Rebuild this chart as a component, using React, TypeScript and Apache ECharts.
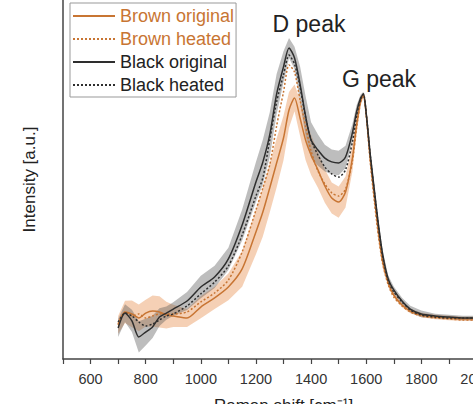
import React, { useEffect, useRef } from "react";
import * as echarts from "echarts";

// Raman shift (cm^-1)
const shifts = [700, 725, 750, 775, 800, 825, 850, 875, 900, 950, 1000, 1050, 1100, 1150, 1200, 1225, 1250, 1275, 1300, 1320, 1340, 1360, 1380, 1400, 1425, 1450, 1475, 1500, 1525, 1550, 1565, 1580, 1590, 1600, 1615, 1630, 1645, 1660, 1680, 1700, 1730, 1760, 1800, 1850, 1900, 1950, 2000];

// Intensity (a.u., G peak ~ 100)
const brownOriginal = [-3.1, 2.7, 1.8, 0, 2.2, 3.1, 2.7, 1.3, 0.9, 0, 4.9, 9.0, 13.9, 22.0, 38.6, 47.5, 58.3, 69.5, 80.7, 93.3, 98.7, 89.7, 79.8, 73.1, 66.4, 59.2, 53.8, 52.0, 56.5, 71.7, 86.5, 97.3, 100.0, 91.5, 70.9, 53.8, 37.7, 25.1, 15.7, 10.3, 5.8, 3.1, 1.3, 0.4, 0, -0.4, -0.4];
const brownHeated = [-2.7, 2.7, 0.9, 1.8, 0, 0.9, 1.8, 1.8, 1.8, 2.7, 7.2, 11.2, 17.0, 29.6, 48.4, 58.3, 68.6, 86.1, 101.3, 113.5, 110.3, 97.8, 86.1, 74.9, 65.9, 60.1, 56.1, 54.7, 57.8, 70.4, 85.2, 96.9, 100.0, 91.0, 69.5, 52.0, 36.3, 24.2, 14.8, 9.4, 5.4, 2.7, 0.9, 0, -0.4, -0.9, -0.9];
const blackOriginal = [-4.5, 2.2, -1.3, -8.5, -6.3, -4.0, 0.4, 2.2, 4.0, 7.6, 13.9, 18.4, 26.5, 41.7, 61.0, 69.9, 82.1, 100.4, 112.6, 121.1, 116.6, 104.9, 90.6, 79.8, 75.3, 71.7, 70.0, 69.5, 72.2, 83.0, 92.4, 98.7, 100.4, 91.9, 73.1, 57.0, 41.3, 28.3, 17.5, 12.6, 7.6, 4.0, 1.8, 0.9, 0.4, 0, 0];
const blackHeated = [-1.8, 2.2, 0.9, -1.8, -3.6, -2.7, -0.9, 0.9, 1.8, 5.4, 10.8, 16.1, 23.3, 37.2, 54.7, 62.8, 79.8, 96.9, 109.0, 117.9, 113.9, 103.6, 90.1, 79.8, 73.1, 67.7, 64.6, 63.2, 66.4, 78.9, 90.6, 98.2, 100.4, 91.9, 72.6, 56.1, 40.4, 27.4, 16.6, 11.7, 7.2, 3.6, 1.3, 0.4, 0, 0, 0];

// Standard deviation half-widths of the shaded bands
const brownOriginalSd = [4, 5, 6, 6, 6, 7, 7, 6, 5, 4, 5, 5, 6, 8, 10, 11, 11, 11, 10, 8, 6, 8, 9, 9, 8, 7.5, 7, 7, 7, 6, 4, 2, 1, 1.5, 2.5, 2.5, 2.5, 2, 1.5, 1, 1, 1, 1, 1, 1, 1, 1];
const blackOriginalSd = [4, 4, 5, 7, 6, 5, 4, 3, 3, 4, 5, 5, 5, 7, 9, 10, 10, 9, 7, 4.5, 5, 8, 9, 8, 7, 6, 5.5, 5.5, 5, 4, 3, 1.5, 1, 1.5, 2, 2, 2, 2, 1.5, 1.5, 1.5, 1.5, 1.5, 1, 1, 1, 1];

const xTicks = [600, 800, 1000, 1200, 1400, 1600, 1800, 2000];

const BROWN = "#c87533";
const BLACK = "#2e2e2e";
const FONT = "Arial, 'Liberation Sans', sans-serif";

function pairs(ys: number[]) {
  return shifts.map((x, i) => [x, ys[i]]);
}

function bandSeries(mid: number[], sd: number[], color: string) {
  const data = shifts.map((x, i) => [x, mid[i] - sd[i], mid[i] + sd[i]]);
  return {
    type: "custom",
    silent: true,
    z: 1,
    encode: { x: 0, y: [1, 2] },
    data,
    renderItem: (params: any, api: any) => {
      if (params.dataIndex !== 0) return null;
      const upper = data.map((d) => api.coord([d[0], d[2]]));
      const lower = data.map((d) => api.coord([d[0], d[1]])).reverse();
      return {
        type: "polygon",
        shape: { points: upper.concat(lower) },
        style: { fill: color, stroke: "none" },
      };
    },
  };
}

export default function App() {
  const ref = useRef<HTMLDivElement>(null);
  useEffect(() => {
    if (!ref.current) return;
    const chart = echarts.init(ref.current, undefined, { renderer: "svg" });
    const lineSeries = (name: string, ys: number[], color: string, dashed: boolean) => ({
      name,
      type: "line",
      data: pairs(ys),
      symbol: "none",
      smooth: 0.25,
      lineStyle: { color, width: 1.5, type: dashed ? [2, 2] : "solid" },
      itemStyle: { color },
      z: 3,
    });
    chart.setOption({
      animation: false,
      backgroundColor: "#fff",
      textStyle: { fontFamily: FONT },
      grid: { left: 63, top: 0, width: 441, height: 359, containLabel: false, outerBoundsMode: "none" },
      legend: {
        orient: "vertical",
        left: 70,
        top: 3,
        padding: [4, 2, 3, 2],
        itemGap: 5,
        itemWidth: 42,
        itemHeight: 14,
        borderColor: "#999",
        borderWidth: 1,
        backgroundColor: "#fff",
        itemStyle: { opacity: 0 },
        textStyle: { fontSize: 18, fontFamily: FONT },
        data: [
          { name: "Brown original", textStyle: { color: BROWN } },
          { name: "Brown heated", textStyle: { color: BROWN } },
          { name: "Black original", textStyle: { color: "#222" } },
          { name: "Black heated", textStyle: { color: "#222" } },
        ],
      },
      xAxis: {
        type: "value",
        min: 500,
        max: 2100,
        interval: 100,
        name: "Raman shift [cm⁻¹]",
        nameLocation: "middle",
        nameGap: 38,
        nameTextStyle: { fontSize: 17, color: "#222", fontFamily: FONT },
        axisLine: { show: true, onZero: false, lineStyle: { color: "#444", width: 1.5 } },
        axisTick: { show: true, length: 5, lineStyle: { color: "#444", width: 1.2 } },
        axisLabel: {
          margin: 12,
          fontSize: 14.5,
          color: "#333",
          fontFamily: FONT,
          formatter: (v: number) => (xTicks.includes(v) ? String(v) : ""),
        },
        splitLine: { show: false },
      },
      yAxis: {
        type: "value",
        min: -18.4,
        max: 142.6,
        name: "Intensity [a.u.]",
        nameLocation: "middle",
        nameGap: 25,
        nameTextStyle: { fontSize: 17, color: "#222", fontFamily: FONT },
        axisLine: { show: true, onZero: false, lineStyle: { color: "#444", width: 1.5 } },
        axisTick: { show: false },
        axisLabel: { show: false },
        splitLine: { show: false },
      },
      graphic: [
        {
          type: "text",
          x: 309,
          y: 24,
          style: { text: "D peak", fontSize: 23, fill: "#222", font: "23px " + FONT, textAlign: "center", textVerticalAlign: "middle" },
        },
        {
          type: "text",
          x: 379,
          y: 79,
          style: { text: "G peak", fontSize: 23, fill: "#222", font: "23px " + FONT, textAlign: "center", textVerticalAlign: "middle" },
        },
      ],
      series: [
        bandSeries(brownOriginal, brownOriginalSd, "rgba(232,150,90,0.45)"),
        bandSeries(blackOriginal, blackOriginalSd, "rgba(90,90,90,0.4)"),
        lineSeries("Brown original", brownOriginal, BROWN, false),
        lineSeries("Brown heated", brownHeated, BROWN, true),
        lineSeries("Black original", blackOriginal, BLACK, false),
        lineSeries("Black heated", blackHeated, BLACK, true),
      ],
    });
    return () => chart.dispose();
  }, []);
  return (
    <div style={{ position: "fixed", left: 0, top: 0, width: 473, height: 404, overflow: "hidden", background: "#fff" }}>
      <div ref={ref} style={{ width: 520, height: 404 }} />
    </div>
  );
}
